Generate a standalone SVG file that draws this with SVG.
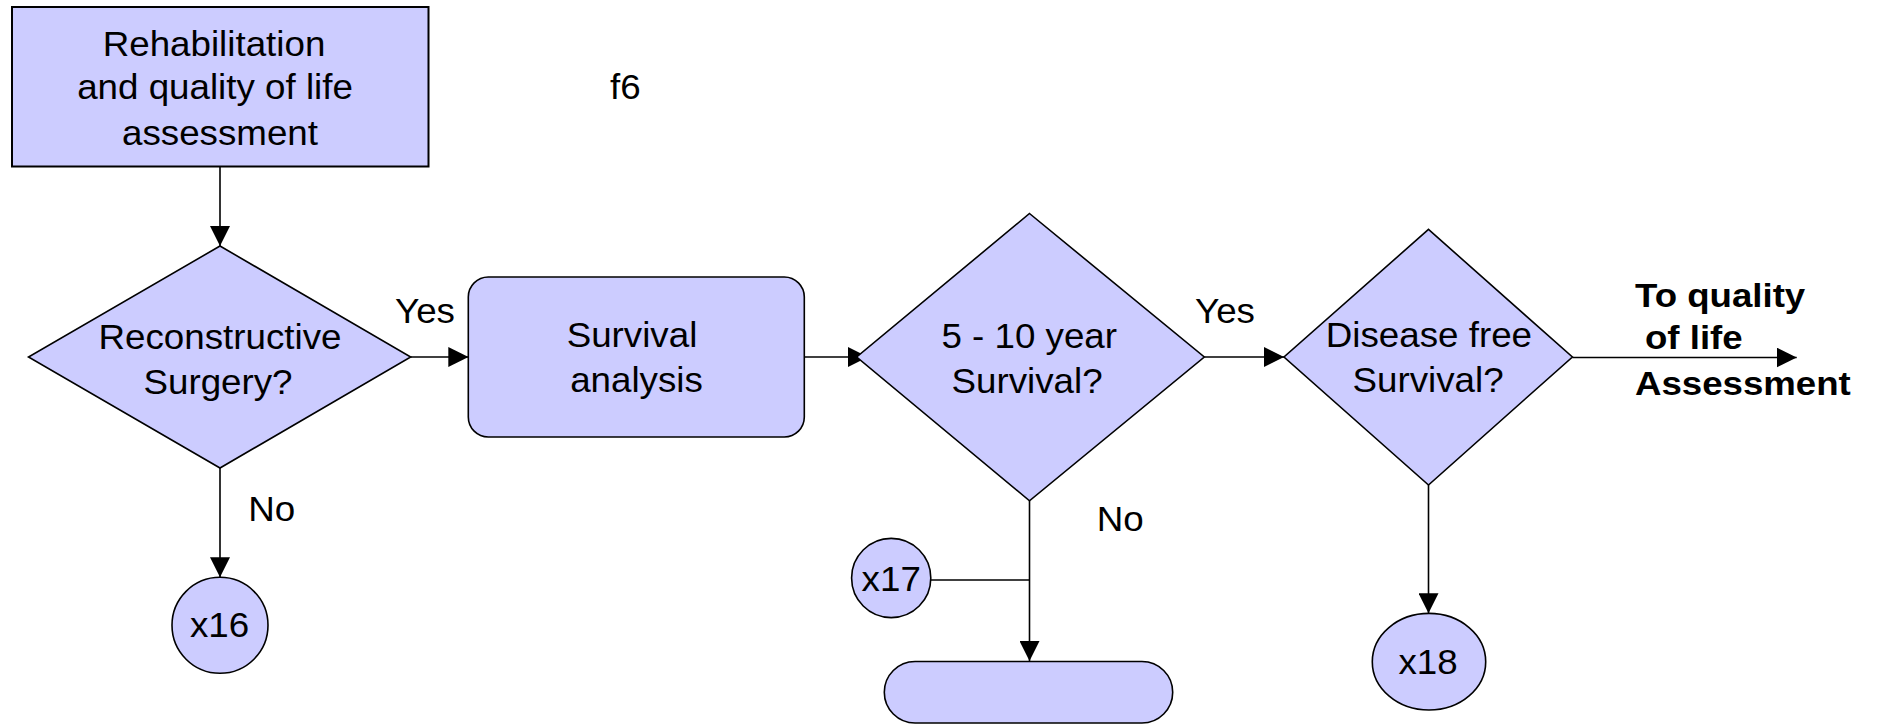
<svg xmlns="http://www.w3.org/2000/svg" width="1883" height="726" viewBox="0 0 1883 726">
<style>
.shape{fill:#CCCCFF;stroke:#000;stroke-width:1.6}
.t{font-family:"Liberation Sans",Arial,sans-serif;font-size:35px;fill:#000;text-anchor:middle}
.ts{font-family:"Liberation Sans",Arial,sans-serif;font-size:35px;fill:#000;text-anchor:start}
.tb{font-family:"Liberation Sans",Arial,sans-serif;font-size:33px;font-weight:bold;fill:#000;text-anchor:start}
.c{fill:none;stroke:#000;stroke-width:1.6}
</style>
<defs>
<marker id="arr" markerUnits="userSpaceOnUse" markerWidth="20" markerHeight="20" refX="20" refY="10" orient="auto">
<path d="M0,0 L20,10 L0,20 z" fill="#000"/>
</marker>
</defs>
<rect width="1883" height="726" fill="#fff"/>

<g id="connectors">
<line class="c" x1="220" y1="166.7" x2="220" y2="246" marker-end="url(#arr)"/>
<line class="c" x1="410.7" y1="357" x2="468.3" y2="357" marker-end="url(#arr)"/>
<line class="c" x1="804.3" y1="357" x2="868" y2="357" marker-end="url(#arr)"/>
<line class="c" x1="1204.3" y1="357" x2="1284" y2="357" marker-end="url(#arr)"/>
<line class="c" x1="1572.4" y1="357.5" x2="1796.7" y2="357.5" marker-end="url(#arr)"/>
<line class="c" x1="220" y1="468" x2="220" y2="577.3" marker-end="url(#arr)"/>
<line class="c" x1="1029.5" y1="500.8" x2="1029.5" y2="661" marker-end="url(#arr)"/>
<line class="c" x1="930.7" y1="580" x2="1029.5" y2="580"/>
<line class="c" x1="1428.5" y1="485" x2="1428.5" y2="613.3" marker-end="url(#arr)"/>
</g>

<g id="rehab">
<rect class="shape" x="12" y="7" width="416.5" height="159.5" style="stroke-width:2"/>
<text class="t" transform="translate(214 0) scale(1.05 1)" x="0" y="56">Rehabilitation</text>
<text class="t" transform="translate(215 0) scale(1.05 1)" x="0" y="99.5">and quality of life</text>
<text class="t" transform="translate(220 0) scale(1.05 1)" x="0" y="145">assessment</text>
</g>

<g id="reconstructive">
<polygon class="shape" points="220,246 410.7,357 220,468 28.5,357"/>
<text class="t" transform="translate(220 0) scale(1.05 1)" x="0" y="349.3">Reconstructive</text>
<text class="t" transform="translate(218 0) scale(1.05 1)" x="0" y="394.5">Surgery?</text>
</g>

<g id="survival-analysis">
<rect class="shape" x="468.3" y="277" width="336" height="160" rx="20" ry="20"/>
<text class="t" transform="translate(632 0) scale(1.05 1)" x="0" y="347">Survival</text>
<text class="t" transform="translate(636.5 0) scale(1.05 1)" x="0" y="391.7">analysis</text>
</g>

<g id="survival-5-10">
<polygon class="shape" points="1029.5,213.5 1204.3,357 1029.5,500.8 856.7,357"/>
<text class="t" transform="translate(1029.2 0) scale(1.05 1)" x="0" y="348.3">5 - 10 year</text>
<text class="t" transform="translate(1027 0) scale(1.05 1)" x="0" y="392.7">Survival?</text>
</g>

<g id="disease-free">
<polygon class="shape" points="1428.5,229.4 1572.4,357 1428.5,485 1284,357"/>
<text class="t" transform="translate(1428.9 0) scale(1.05 1)" x="0" y="347.5">Disease free</text>
<text class="t" transform="translate(1428 0) scale(1.05 1)" x="0" y="392">Survival?</text>
</g>

<g id="x16">
<circle class="shape" cx="220" cy="625.3" r="48"/>
<text class="t" transform="translate(219.5 0) scale(1.05 1)" x="0" y="637">x16</text>
</g>

<g id="x17">
<circle class="shape" cx="891.2" cy="578" r="39.6"/>
<text class="t" transform="translate(891.2 0) scale(1.05 1)" x="0" y="591">x17</text>
</g>

<g id="terminator">
<rect class="shape" x="884.3" y="661.5" width="288.4" height="61.5" rx="30.75" ry="30.75"/>
</g>

<g id="x18">
<ellipse class="shape" cx="1429" cy="661.7" rx="56.7" ry="48.3"/>
<text class="t" transform="translate(1428 0) scale(1.05 1)" x="0" y="674.5">x18</text>
</g>

<g id="labels">
<text class="ts" transform="translate(610 0) scale(1.05 1)" x="0" y="99.3">f6</text>
<text class="ts" transform="translate(395 0) scale(1.05 1)" x="0" y="322.7">Yes</text>
<text class="ts" transform="translate(1195 0) scale(1.05 1)" x="0" y="322.7">Yes</text>
<text class="ts" transform="translate(248.3 0) scale(1.05 1)" x="0" y="521">No</text>
<text class="ts" transform="translate(1096.7 0) scale(1.05 1)" x="0" y="530.7">No</text>
<text class="tb" transform="translate(1635 0) scale(1.11 1)" x="0" y="306.7">To quality</text>
<text class="tb" transform="translate(1645 0) scale(1.11 1)" x="0" y="349.3">of life</text>
<text class="tb" transform="translate(1635 0) scale(1.11 1)" x="0" y="395">Assessment</text>
</g>
</svg>
